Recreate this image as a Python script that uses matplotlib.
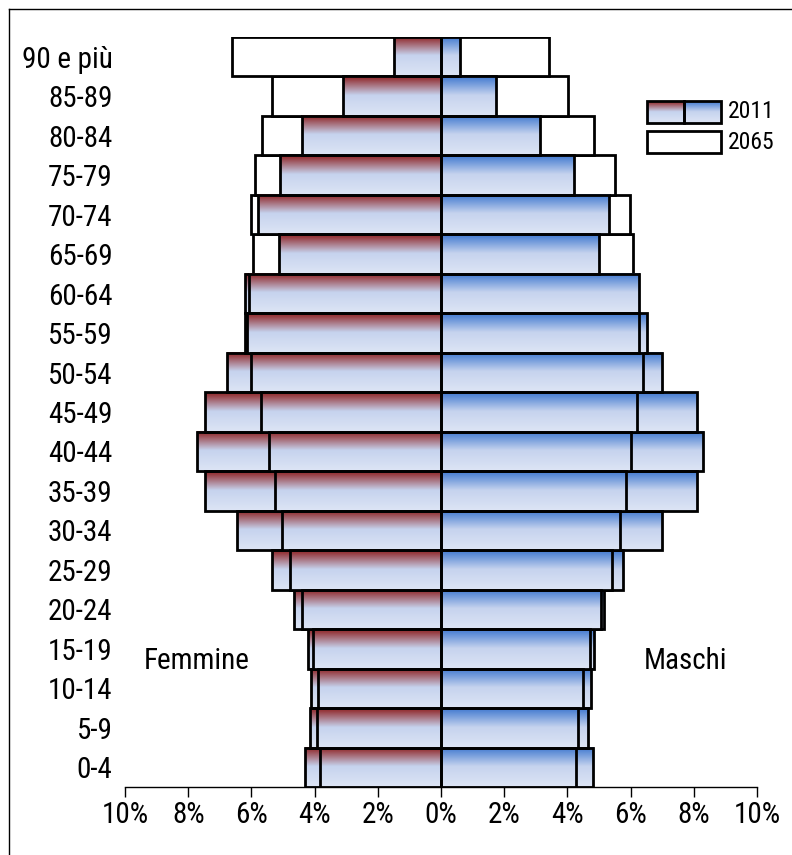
import numpy as np
import matplotlib.pyplot as plt
from matplotlib.colors import to_rgb
from matplotlib.lines import Line2D
from matplotlib.patches import Rectangle

plt.rcParams['font.family'] = ['Arial Narrow', 'Liberation Sans Narrow', 'Roboto Condensed',
                               'Archivo Narrow', 'PT Sans Narrow', 'Liberation Sans', 'DejaVu Sans']

# age classes from bottom to top
ages = ['0-4', '5-9', '10-14', '15-19', '20-24', '25-29', '30-34', '35-39',
        '40-44', '45-49', '50-54', '55-59', '60-64', '65-69', '70-74',
        '75-79', '80-84', '85-89', '90 e più']

# share of population (%)
fem_2011 = [3.82, 3.91, 3.90, 4.05, 4.40, 4.78, 5.03, 5.25, 5.44, 5.70,
            6.00, 6.15, 6.07, 5.13, 5.78, 5.10, 4.40, 3.10, 1.48]
fem_2065 = [4.31, 4.15, 4.11, 4.21, 4.65, 5.35, 6.46, 7.46, 7.72, 7.46,
            6.78, 6.20, 6.20, 5.95, 6.00, 5.90, 5.66, 5.35, 6.60]
mas_2011 = [4.28, 4.32, 4.50, 4.73, 5.05, 5.40, 5.68, 5.85, 6.00, 6.20,
            6.40, 6.27, 6.25, 5.00, 5.32, 4.22, 3.13, 1.74, 0.60]
mas_2065 = [4.82, 4.64, 4.76, 4.85, 5.17, 5.75, 7.00, 8.10, 8.30, 8.10,
            7.00, 6.52, 6.22, 6.08, 5.98, 5.52, 4.84, 4.02, 3.42]

xticks = [-10, -8, -6, -4, -2, 0, 2, 4, 6, 8, 10]

RED_TOP = '#953539'
BLUE_TOP = '#4f83d3'
MID = '#c6d3ee'
LOW = '#dde5f5'


def gradient(top):
    # vertical gradient: dark colour on top, fading into light blue
    c0, c1, c2 = np.array(to_rgb(top)), np.array(to_rgb(MID)), np.array(to_rgb(LOW))
    rows = []
    for v in np.linspace(0, 1, 150):
        if v < 0.06:
            rows.append(c0)
        elif v < 0.48:
            a = (v - 0.06) / 0.42
            rows.append(c0 * (1 - a) + c1 * a)
        else:
            a = (v - 0.48) / 0.52
            rows.append(c1 * (1 - a) + c2 * a)
    return np.array(rows).reshape(-1, 1, 3)


def fill_bars(ax, bars, top, z):
    img = gradient(top)
    for b in bars:
        x0, y0 = b.get_x(), b.get_y()
        x1, y1 = x0 + b.get_width(), y0 + b.get_height()
        ax.imshow(img, extent=(min(x0, x1), max(x0, x1), y0, y1),
                  origin='upper', aspect='auto', interpolation='bilinear', zorder=z)


fig = plt.figure(figsize=(7.92, 8.55), dpi=100)
ax = fig.add_axes([125 / 792, 1 - 787 / 855, 632 / 792, 750 / 855])

y = np.arange(len(ages))
old = ages.index('65-69')

# 2065 behind
fb = ax.barh(y, -np.array(fem_2065), height=1, facecolor='none',
             edgecolor='black', lw=2, zorder=1.5)
mb = ax.barh(y, mas_2065, height=1, facecolor='none',
             edgecolor='black', lw=2, zorder=1.5)
fill_bars(ax, fb[:old], RED_TOP, 1)
fill_bars(ax, mb[:old], BLUE_TOP, 1)
for b in list(fb[old:]) + list(mb[old:]):
    b.set_facecolor('white')

# 2011 on top
fb11 = ax.barh(y, -np.array(fem_2011), height=1, facecolor='none',
               edgecolor='black', lw=2, zorder=2.5)
mb11 = ax.barh(y, mas_2011, height=1, facecolor='none',
               edgecolor='black', lw=2, zorder=2.5)
fill_bars(ax, fb11, RED_TOP, 2)
fill_bars(ax, mb11, BLUE_TOP, 2)

ax.set_xlim(-10, 10)
ax.set_ylim(-0.5, len(ages) - 0.5)
ax.set_xticks(xticks)
ax.set_xticklabels([f'{abs(v)}%' for v in xticks], fontsize=21)
ax.set_yticks(y)
ax.set_yticklabels(ages, fontsize=21)
ax.tick_params(axis='y', length=0, pad=9)
ax.tick_params(axis='x', direction='out', length=7, width=1, pad=3)
for s in ['left', 'right', 'top']:
    ax.spines[s].set_visible(False)
ax.spines['bottom'].set_linewidth(1)

ax.text(-7.72, 2.7, 'Femmine', fontsize=21, ha='center', va='center')
ax.text(7.75, 2.7, 'Maschi', fontsize=21, ha='center', va='center')

# legend drawn by hand
lg = fig.add_axes([647 / 792, 1 - 153 / 855, 74 / 792, 52 / 855])
lg.axis('off')
lg.imshow(gradient(RED_TOP), extent=(0, 0.5, 0.577, 1), origin='upper', aspect='auto')
lg.imshow(gradient(BLUE_TOP), extent=(0.5, 1, 0.577, 1), origin='upper', aspect='auto')
lg.add_patch(Rectangle((0, 0.577), 0.5, 0.423, fill=False, lw=2, ec='black', clip_on=False))
lg.add_patch(Rectangle((0.5, 0.577), 0.5, 0.423, fill=False, lw=2, ec='black', clip_on=False))
lg.add_patch(Rectangle((0, 0), 1, 0.423, fc='white', lw=2, ec='black', clip_on=False))
lg.set_xlim(0, 1)
lg.set_ylim(0, 1)
lg.text(1.09, 0.79, '2011', fontsize=17, va='center')
lg.text(1.09, 0.21, '2065', fontsize=17, va='center')

# outer frame (only top and left edges visible)
fig.add_artist(Line2D([9 / 792, 1], [1 - 9 / 855, 1 - 9 / 855], color='black', lw=1))
fig.add_artist(Line2D([9 / 792, 9 / 792], [0, 1 - 9 / 855], color='black', lw=1))

fig.savefig('out.png', dpi=100)
